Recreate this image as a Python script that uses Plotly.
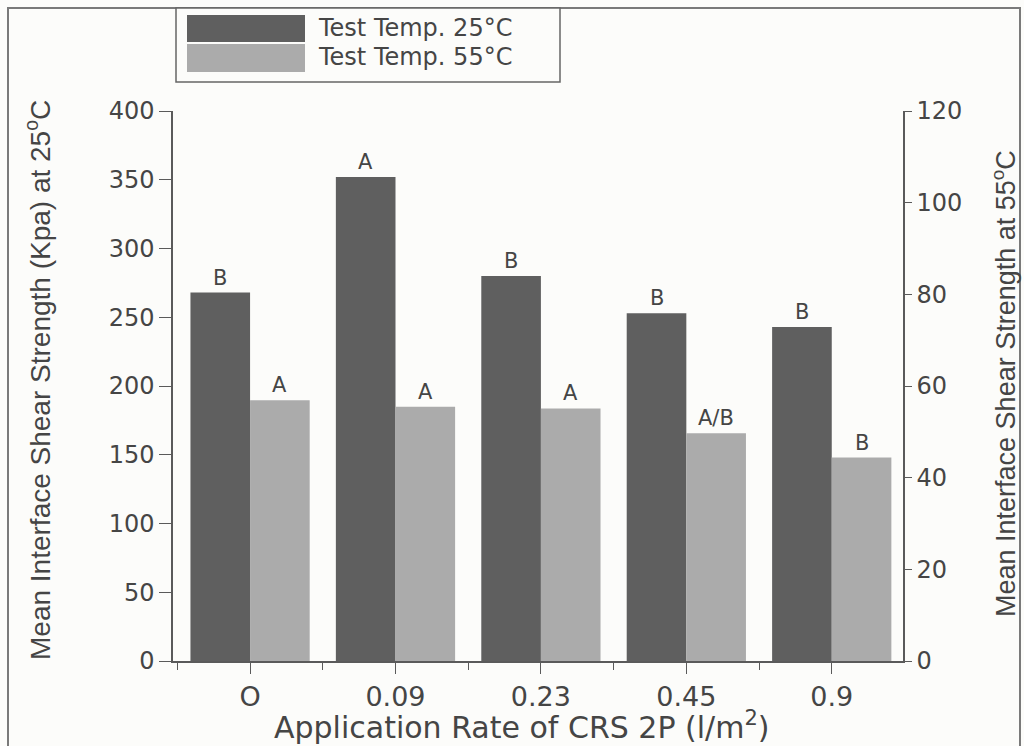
import plotly.graph_objects as go

# ---- data ----
categories = ["O", "0.09", "0.23", "0.45", "0.9"]
strength_25 = [268, 352, 280, 253, 243]        # left axis (Kpa)
strength_55 = [56.9, 55.5, 55.1, 49.7, 44.4]   # right axis
letters_25 = ["B", "A", "B", "B", "B"]
letters_55 = ["A", "A", "A", "A/B", "B"]
legend_names = ["Test Temp. 25°C", "Test Temp. 55°C"]

positions = list(range(len(categories)))

DARK = "#5f5f5f"
LIGHT = "#ababab"
TXT = "#454545"
AX = "#5a5a5a"
BG = "#fcfcfa"

# plot-area geometry (pixels) for helper conversions of decorations
L, R, T, B = 173, 903, 111, 661
W, H = 1024, 746


def px(x):
    return (x - L) / (R - L)


def py(y):
    return (B - y) / (B - T)


fig = go.Figure()
fig.add_trace(go.Bar(x=positions, y=strength_25, width=0.41, offset=-0.41,
                     marker=dict(color=DARK, line=dict(width=0)),
                     name=legend_names[0], yaxis="y", showlegend=False))
fig.add_trace(go.Bar(x=positions, y=strength_55, width=0.41, offset=0,
                     marker=dict(color=LIGHT, line=dict(width=0)),
                     name=legend_names[1], yaxis="y2", showlegend=False))

annotations = []
for i, (v, t) in enumerate(zip(strength_25, letters_25)):
    annotations.append(dict(x=i - 0.205, y=v, xref="x", yref="y", text=t,
                            showarrow=False, yanchor="bottom", yshift=1,
                            font=dict(family="DejaVu Sans", size=21, color=TXT)))
for i, (v, t) in enumerate(zip(strength_55, letters_55)):
    annotations.append(dict(x=i + 0.205, y=v, xref="x", yref="y2", text=t,
                            showarrow=False, yanchor="bottom", yshift=1,
                            font=dict(family="DejaVu Sans", size=21, color=TXT)))

# axis titles
annotations.append(dict(x=px(38), y=py(380), xref="paper", yref="paper",
                        text="Mean Interface Shear Strength (Kpa) at 25<sup>o</sup>C",
                        textangle=-90, showarrow=False, xanchor="center", yanchor="middle",
                        font=dict(family="Liberation Sans", size=28, color=TXT)))
annotations.append(dict(x=px(1004), y=py(384), xref="paper", yref="paper",
                        text="Mean Interface Shear Strength at 55<sup>o</sup>C",
                        textangle=-90, showarrow=False, xanchor="center", yanchor="middle",
                        font=dict(family="Liberation Sans", size=27, color=TXT)))
annotations.append(dict(x=px(521), y=py(725), xref="paper", yref="paper",
                        text="Application Rate of CRS 2P (l/m<sup>2</sup>)",
                        showarrow=False, xanchor="center", yanchor="middle",
                        font=dict(family="DejaVu Sans", size=30, color=TXT)))

# legend text
for name, yc in zip(legend_names, [28, 57]):
    annotations.append(dict(x=px(316), y=py(yc), xref="paper", yref="paper",
                            text=name, showarrow=False, xanchor="left", yanchor="middle",
                            font=dict(family="DejaVu Sans", size=24, color=TXT)))

shapes = [
    # scanned page frame
    dict(type="rect", xref="paper", yref="paper", x0=px(8), x1=px(1020),
         y0=py(760), y1=py(8), line=dict(color="#7a7a7a", width=2), layer="below"),
    # legend box
    dict(type="rect", xref="paper", yref="paper", x0=px(176), x1=px(560),
         y0=py(82), y1=py(8), line=dict(color="#666666", width=1.5),
         fillcolor=BG),
    dict(type="rect", xref="paper", yref="paper", x0=px(187), x1=px(305),
         y0=py(42), y1=py(15), line=dict(width=0), fillcolor=DARK),
    dict(type="rect", xref="paper", yref="paper", x0=px(187), x1=px(305),
         y0=py(72), y1=py(44), line=dict(width=0), fillcolor=LIGHT),
]

fig.update_layout(
    width=W, height=H,
    margin=dict(l=L, r=W - R, t=T, b=H - B, pad=0),
    paper_bgcolor=BG, plot_bgcolor=BG,
    barmode="overlay",
    annotations=annotations,
    shapes=shapes,
    xaxis=dict(range=[-0.53, 4.49], tickmode="array", tickvals=positions,
               ticktext=categories, ticks="outside", ticklen=11, tickwidth=1.3,
               tickcolor=AX, showline=True, linecolor=AX, linewidth=1.5,
               showgrid=False, zeroline=False,
               tickfont=dict(family="DejaVu Sans", size=27, color=TXT),
               minor=dict(tickmode="linear", tick0=0.5, dtick=1, ticks="outside",
                          ticklen=7, tickcolor=AX, tickwidth=1.3, showgrid=False)),
    yaxis=dict(range=[0, 400], dtick=50, ticks="outside", ticklen=12, tickwidth=1.3,
               tickcolor=AX, showline=True, linecolor=AX, linewidth=1.5,
               showgrid=False, zeroline=False,
               tickfont=dict(family="DejaVu Sans", size=24, color=TXT)),
    yaxis2=dict(range=[0, 120], dtick=20, overlaying="y", side="right",
                ticks="outside", ticklen=7, tickwidth=1.3, tickcolor=AX,
                showline=True, linecolor=AX, linewidth=1.5,
                showgrid=False, zeroline=False,
                tickfont=dict(family="DejaVu Sans", size=24, color=TXT)),
)

fig.write_html("out.html")
